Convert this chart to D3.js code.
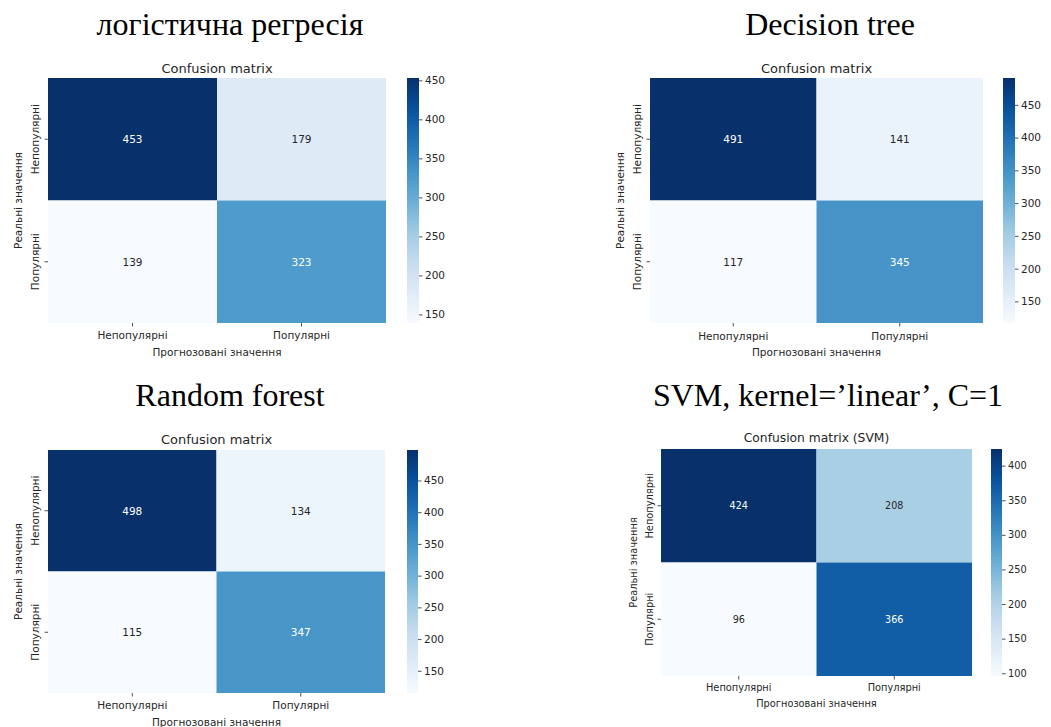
<!DOCTYPE html>
<html><head><meta charset="utf-8">
<script src="https://cdn.jsdelivr.net/npm/d3@7"></script>
<style>body{margin:0;background:#fff}svg{display:block}</style>
</head><body>
<svg id="chart" width="1051" height="727"></svg>
<script>
// ---- data ----
const classes = ["Непопулярні", "Популярні"];
const panelTitles = ["логістична регресія", "Decision tree", "Random forest", "SVM, kernel=’linear’, C=1"];
const matrixTitles = ["Confusion matrix", "Confusion matrix", "Confusion matrix", "Confusion matrix (SVM)"];
const xLabel = "Прогнозовані значення";
const yLabel = "Реальні значення";
const logregValues = [[453, 179], [139, 323]];
const treeValues   = [[491, 141], [117, 345]];
const forestValues = [[498, 134], [115, 347]];
const svmValues    = [[424, 208], [96, 366]];
const cbTicksA = [150, 200, 250, 300, 350, 400, 450];
const cbTicksB = [100, 150, 200, 250, 300, 350, 400];

const matrices = [logregValues, treeValues, forestValues, svmValues];
const cbTickSets = [cbTicksA, cbTicksA, cbTicksA, cbTicksB];

// ---- layout (positions only) ----
const layouts = [
  {hx0:48, hx1:386, hy0:78, hy1:323, cbx0:407, cbx1:419, tx:230, ty:35, st:68, xtl:335, xl:352, ylx:18, ytx:35, fs:13, tfs:10.5, afs:10.5},
  {hx0:650, hx1:983, hy0:78, hy1:323, cbx0:1003, cbx1:1015, tx:830, ty:35, st:68, xtl:336, xl:352, ylx:620, ytx:637, fs:13, tfs:10.5, afs:10.5},
  {hx0:48, hx1:385, hy0:450, hy1:693, cbx0:407, cbx1:418, tx:230, ty:406, st:439, xtl:705, xl:722, ylx:18, ytx:35, fs:13, tfs:10.5, afs:10.5},
  {hx0:661, hx1:972, hy0:449, hy1:676, cbx0:991, cbx1:1002, tx:828, ty:406, st:438, xtl:687, xl:703, ylx:633, ytx:649, fs:12.3, tfs:9.8, afs:9.6}
];

const svg = d3.select("#chart");
const blues = d3.schemeBlues[9];
const textDark = "#262626";
const sans = "DejaVu Sans, sans-serif";

function relLum(c) {
  const rgb = d3.rgb(c);
  const f = v => { v /= 255; return v <= 0.03928 ? v / 12.92 : Math.pow((v + 0.055) / 1.055, 2.4); };
  return 0.2126 * f(rgb.r) + 0.7152 * f(rgb.g) + 0.0722 * f(rgb.b);
}

matrices.forEach((m, i) => {
  const L = layouts[i];
  const g = svg.append("g");
  const flat = m.flat();
  const vmin = d3.min(flat), vmax = d3.max(flat);
  const color = d3.scaleLinear()
    .domain(d3.range(9).map(k => vmin + (vmax - vmin) * k / 8))
    .range(blues).interpolate(d3.interpolateRgb).clamp(true);

  const x = d3.scaleBand().domain(classes).range([L.hx0, L.hx1]);
  const y = d3.scaleBand().domain(classes).range([L.hy0, L.hy1]);

  // big title
  g.append("text").attr("x", L.tx).attr("y", L.ty).attr("text-anchor", "middle")
    .style("font-family", "Liberation Serif, Times New Roman, serif").style("font-size", "32px")
    .attr("fill", "#000").text(panelTitles[i]);

  // matrix title
  g.append("text").attr("x", (L.hx0 + L.hx1) / 2).attr("y", L.st).attr("text-anchor", "middle")
    .attr("dominant-baseline", "central")
    .style("font-family", sans).style("font-size", L.fs + "px").attr("fill", textDark)
    .text(matrixTitles[i]);

  // cells
  const cells = [];
  m.forEach((row, r) => row.forEach((v, c) => cells.push({r: classes[r], c: classes[c], v})));
  g.selectAll("rect.cell").data(cells).enter().append("rect")
    .attr("x", d => x(d.c)).attr("y", d => y(d.r))
    .attr("width", x.bandwidth()).attr("height", y.bandwidth())
    .attr("fill", d => color(d.v));
  g.selectAll("text.ann").data(cells).enter().append("text")
    .attr("x", d => x(d.c) + x.bandwidth() / 2).attr("y", d => y(d.r) + y.bandwidth() / 2)
    .attr("text-anchor", "middle").attr("dominant-baseline", "central")
    .style("font-family", sans).style("font-size", L.afs + "px")
    .attr("fill", d => relLum(color(d.v)) > 0.408 ? textDark : "#ffffff")
    .text(d => d.v);

  // x axis
  const xa = g.append("g").attr("transform", `translate(0,${L.hy1})`)
    .call(d3.axisBottom(x).tickSize(3.5).tickPadding(2));
  xa.select(".domain").remove();
  xa.selectAll("line").attr("stroke", textDark).attr("stroke-width", 0.8);
  xa.selectAll("text").remove();
  classes.forEach(cl => {
    g.append("text").attr("x", x(cl) + x.bandwidth() / 2).attr("y", L.xtl)
      .attr("text-anchor", "middle").attr("dominant-baseline", "central")
      .style("font-family", sans).style("font-size", L.tfs + "px").attr("fill", textDark).text(cl);
  });
  g.append("text").attr("x", (L.hx0 + L.hx1) / 2).attr("y", L.xl)
    .attr("text-anchor", "middle").attr("dominant-baseline", "central")
    .style("font-family", sans).style("font-size", L.tfs + "px").attr("fill", textDark).text(xLabel);

  // y axis
  const ya = g.append("g").attr("transform", `translate(${L.hx0},0)`)
    .call(d3.axisLeft(y).tickSize(3.5));
  ya.select(".domain").remove();
  ya.selectAll("line").attr("stroke", textDark).attr("stroke-width", 0.8);
  ya.selectAll("text").remove();
  classes.forEach(cl => {
    const cy = y(cl) + y.bandwidth() / 2;
    g.append("text").attr("transform", `translate(${L.ytx},${cy}) rotate(-90)`)
      .attr("text-anchor", "middle").attr("dominant-baseline", "central")
      .style("font-family", sans).style("font-size", L.tfs + "px").attr("fill", textDark).text(cl);
  });
  g.append("text").attr("transform", `translate(${L.ylx},${(L.hy0 + L.hy1) / 2}) rotate(-90)`)
    .attr("text-anchor", "middle").attr("dominant-baseline", "central")
    .style("font-family", sans).style("font-size", L.tfs + "px").attr("fill", textDark).text(yLabel);

  // colorbar
  const gradId = "grad" + i;
  const grad = svg.append("defs").append("linearGradient").attr("id", gradId)
    .attr("x1", 0).attr("y1", 1).attr("x2", 0).attr("y2", 0);
  d3.range(0, 1.0001, 0.02).forEach(t => {
    grad.append("stop").attr("offset", t).attr("stop-color", color(vmin + (vmax - vmin) * t));
  });
  g.append("rect").attr("x", L.cbx0).attr("y", L.hy0).attr("width", L.cbx1 - L.cbx0)
    .attr("height", L.hy1 - L.hy0).attr("fill", `url(#${gradId})`);
  const cy = d3.scaleLinear().domain([vmin, vmax]).range([L.hy1, L.hy0]);
  const cba = g.append("g").attr("transform", `translate(${L.cbx1},0)`)
    .call(d3.axisRight(cy).tickValues(cbTickSets[i]).tickSize(3.5).tickPadding(2.5));
  cba.select(".domain").remove();
  cba.selectAll("line").attr("stroke", textDark).attr("stroke-width", 0.8);
  cba.selectAll("text").style("font-family", sans).style("font-size", L.tfs + "px").attr("fill", textDark);
});
</script>
</body></html>
